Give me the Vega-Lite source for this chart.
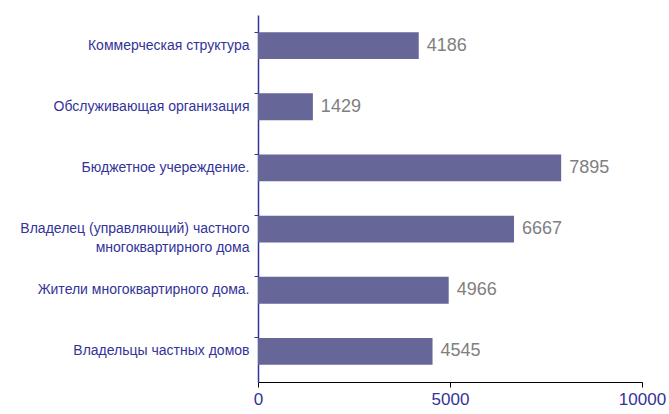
{
  "$schema": "https://vega.github.io/schema/vega-lite/v6.json",
  "width": 384,
  "height": 367,
  "autosize": {"type": "none"},
  "padding": {"left": 258, "top": 15, "right": 27, "bottom": 32},
  "background": "white",
  "config": {"view": {"stroke": null}, "font": "Liberation Sans"},
  "data": {
    "values": [
      {"cat": "Коммерческая структура", "value": 4186},
      {"cat": "Обслуживающая организация", "value": 1429},
      {"cat": "Бюджетное учереждение.", "value": 7895},
      {"cat": "Владелец (управляющий) частного|многоквартирного дома", "value": 6667},
      {"cat": "Жители многоквартирного дома.", "value": 4966},
      {"cat": "Владельцы частных домов", "value": 4545}
    ]
  },
  "encoding": {
    "y": {
      "field": "cat",
      "type": "nominal",
      "sort": null,
      "scale": {"paddingInner": 0.56, "paddingOuter": 0.28},
      "axis": {
        "title": null,
        "labelExpr": "split(datum.value, '|')",
        "labelColor": "#333399",
        "labelFont": "Liberation Sans",
        "labelFontSize": 14,
        "labelPadding": 5,
        "labelLimit": 300,
        "labelLineHeight": 19,
        "domainColor": "#333399",
        "domainWidth": 1.5,
        "tickColor": "#333399",
        "tickSize": 4,
        "bandPosition": 0,
        "grid": false
      }
    },
    "x": {
      "field": "value",
      "type": "quantitative",
      "scale": {"domain": [0, 10000]},
      "axis": {
        "title": null,
        "values": [0, 5000, 10000],
        "format": "d",
        "grid": false,
        "domainColor": "black",
        "tickColor": "black",
        "tickSize": 5,
        "labelColor": "#333399",
        "labelFontSize": 17,
        "labelPadding": 4,
        "labelFlush": false
      }
    }
  },
  "layer": [
    {"mark": {"type": "bar", "color": "#666699"}},
    {
      "mark": {"type": "text", "align": "left", "dx": 8, "fontSize": 18, "color": "#808080"},
      "encoding": {"text": {"field": "value", "type": "quantitative", "format": "d"}}
    }
  ]
}
